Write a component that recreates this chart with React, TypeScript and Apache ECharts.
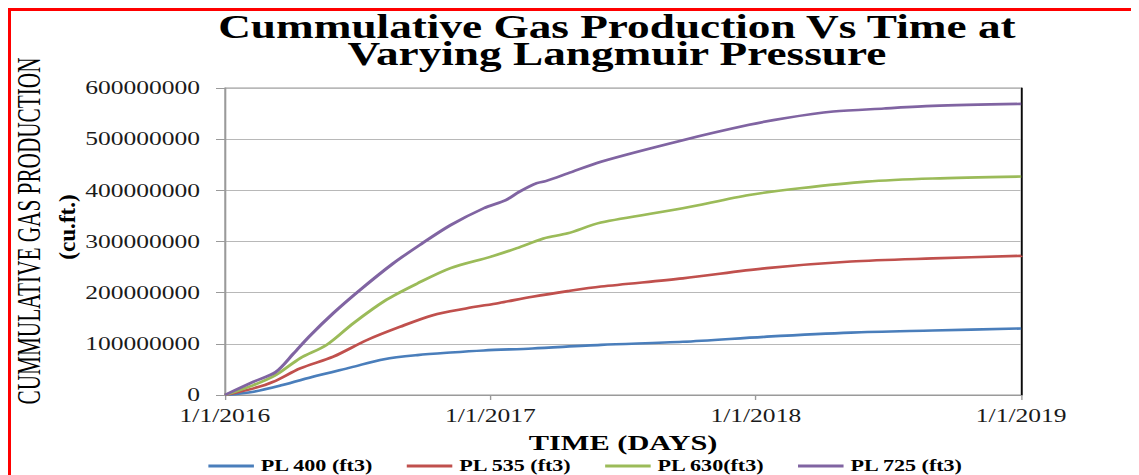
import React, { useEffect, useRef } from "react";
import * as echarts from "echarts";

// Months since 1/1/2016 and cumulative production in millions of cu.ft.
const pl400Months = [0, 1.3, 2.6, 4.1, 5.7, 7.2, 8.7, 10.2, 11.7, 13.9, 17, 20.7, 24.5, 28.3, 32, 36];
const pl400Values = [0, 6.5, 19.5, 37, 54, 70, 78, 83, 87, 91, 98, 104, 114, 122, 126, 130];

const pl535Months = [0, 1.3, 2.2, 3.4, 4.9, 6.4, 7.9, 9.4, 10.9, 12.4, 13.9, 15.5, 17, 20.7, 24.5, 28.3, 32, 36];
const pl535Values = [0, 13, 26, 52, 75, 107, 133, 156, 169, 180, 192, 203, 212, 228, 248, 261, 267, 272];

const pl630Months = [0, 1.3, 2.3, 3.4, 4.6, 5.8, 7.3, 8.7, 10.2, 12, 13.2, 14.4, 15.5, 17, 20.7, 23.7, 26, 29, 32, 36];
const pl630Values = [0, 19.5, 39, 72, 98, 140, 186, 218, 248, 270, 287, 306, 316, 337, 365, 391, 404, 417, 423, 427];

const pl725Months = [0, 1.3, 2.3, 3.1, 3.8, 4.9, 6.1, 7.6, 8.8, 10.2, 11.7, 12.7, 13.3, 14.1, 14.5, 15.5, 17, 20.7, 23.7, 25.3, 27.5, 29.8, 32, 36];
const pl725Values = [0, 26, 45, 81, 114, 160, 205, 257, 293, 332, 365, 381, 397, 414, 418, 433, 456, 498, 528, 541, 554, 560, 565, 569];

const seriesNames = ["PL 400 (ft3)", "PL 535 (ft3)", "PL 630(ft3)", "PL 725 (ft3)"];
const seriesColors = ["#4a7ebb", "#c0504d", "#9bbb59", "#8064a2"];
const yTicks = [0, 100000000, 200000000, 300000000, 400000000, 500000000, 600000000];
const startYear = 2016;

const titleText = "Cummulative Gas Production Vs Time at\nVarying Langmuir Pressure";
const yTitle = "CUMMULATIVE GAS PRODUCTION";
const yUnit = "(cu.ft.)";
const xTitle = "TIME (DAYS)";

const SERIF = "'Liberation Serif', 'Times New Roman', serif";
const SX = 1.38;

function pairs(months: number[], values: number[]) {
  return months.map((m, i) => [m, values[i] * 1e6]);
}

export default function App() {
  const ref = useRef<HTMLDivElement>(null);

  useEffect(() => {
    document.documentElement.style.overflow = "hidden";
    document.body.style.overflow = "hidden";
    if (!ref.current) return;
    const chart = echarts.init(ref.current, undefined, { renderer: "svg" });
    const data = [
      pairs(pl400Months, pl400Values),
      pairs(pl535Months, pl535Values),
      pairs(pl630Months, pl630Values),
      pairs(pl725Months, pl725Values),
    ];
    chart.setOption({
      animation: false,
      backgroundColor: "#ffffff",
      grid: {
        left: 163,
        right: 85,
        top: 88,
        bottom: 80,
        show: true,
        borderColor: "#9a9a9a",
        borderWidth: 1,
      },
      xAxis: {
        type: "value",
        min: 0,
        max: 36,
        interval: 12,
        axisLine: { show: true, lineStyle: { color: "#9a9a9a", width: 1 } },
        axisTick: { show: true, length: 5, inside: false, lineStyle: { color: "#9a9a9a" } },
        splitLine: { show: false },
        axisLabel: {
          margin: 11,
          fontFamily: SERIF,
          fontSize: 18.5,
          color: "#1a1a1a",
          showMinLabel: true,
          showMaxLabel: true,
          formatter: (v: number) => `1/1/${startYear + Math.round(v / 12)}`,
        },
      },
      yAxis: [
        {
          type: "value",
          min: yTicks[0],
          max: yTicks[yTicks.length - 1],
          interval: yTicks[1] - yTicks[0],
          axisLine: { show: true, lineStyle: { color: "#9a9a9a", width: 1 } },
          axisTick: { show: true, length: 6.5, inside: false, lineStyle: { color: "#9a9a9a" } },
          splitLine: { show: true, lineStyle: { color: "#b8b8b8", width: 1 } },
          axisLabel: {
            margin: 18,
            fontFamily: SERIF,
            fontSize: 18.5,
            color: "#1a1a1a",
            formatter: (v: number) => String(v),
          },
        },
        {
          type: "value",
          position: "right",
          min: yTicks[0],
          max: yTicks[yTicks.length - 1],
          interval: yTicks[1] - yTicks[0],
          axisLine: { show: true, lineStyle: { color: "#000000", width: 1.2 } },
          axisTick: { show: false },
          splitLine: { show: false },
          axisLabel: { show: false },
        },
      ],
      legend: {
        left: 146,
        top: 453,
        orient: "horizontal",
        icon: "rect",
        itemWidth: 33,
        itemHeight: 3,
        itemGap: 24,
        data: seriesNames,
        textStyle: {
          fontFamily: SERIF,
          fontSize: 16,
          fontWeight: "bold",
          color: "#000",
          lineHeight: 16,
        },
      },
      series: data.map((d, i) => ({
        name: seriesNames[i],
        type: "line",
        data: d,
        showSymbol: false,
        symbol: "none",
        smooth: 0.3,
        color: seriesColors[i],
        lineStyle: { color: seriesColors[i], width: 2.6 },
        z: 2 + i,
      })),
      graphic: [
        {
          type: "text",
          x: 447,
          y: 41,
          style: {
            text: titleText,
            fontFamily: SERIF,
            fontSize: 32.8,
            fontWeight: "bold",
            lineHeight: 27,
            fill: "#000",
            align: "center",
            verticalAlign: "middle",
          },
        },
        {
          type: "text",
          x: 20,
          y: 231,
          rotation: Math.PI / 2,
          scaleX: 0.85,
          style: {
            text: yTitle,
            fontFamily: SERIF,
            fontSize: 25,
            lineHeight: 19,
            fill: "#000",
            align: "center",
            verticalAlign: "middle",
          },
        },
        {
          type: "text",
          x: 49.3,
          y: 227,
          rotation: Math.PI / 2,
          scaleX: 1.45,
          style: {
            text: yUnit,
            fontFamily: SERIF,
            fontSize: 16,
            fontWeight: "bold",
            lineHeight: 16,
            fill: "#000",
            align: "center",
            verticalAlign: "middle",
          },
        },
        {
          type: "text",
          x: 451.5,
          y: 442.5,
          style: {
            text: xTitle,
            fontFamily: SERIF,
            fontSize: 22,
            fontWeight: "bold",
            lineHeight: 20,
            fill: "#000",
            align: "center",
            verticalAlign: "middle",
          },
        },
      ],
    });
    return () => {
      chart.dispose();
    };
  }, []);

  return (
    <div
      style={{
        position: "relative",
        margin: "-8px -8px 0 -8px",
        width: 1139,
        height: 475,
        overflow: "hidden",
      }}
    >
      <div
        ref={ref}
        style={{
          width: 825,
          height: 475,
          transform: `scaleX(${SX})`,
          transformOrigin: "0 0",
        }}
      />
      <div
        style={{
          position: "absolute",
          left: 8,
          top: 8,
          width: 1123,
          height: 470,
          boxSizing: "border-box",
          borderTop: "3px solid #ff0000",
          borderLeft: "3px solid #ff0000",
          pointerEvents: "none",
          zIndex: 1,
        }}
      />
    </div>
  );
}
